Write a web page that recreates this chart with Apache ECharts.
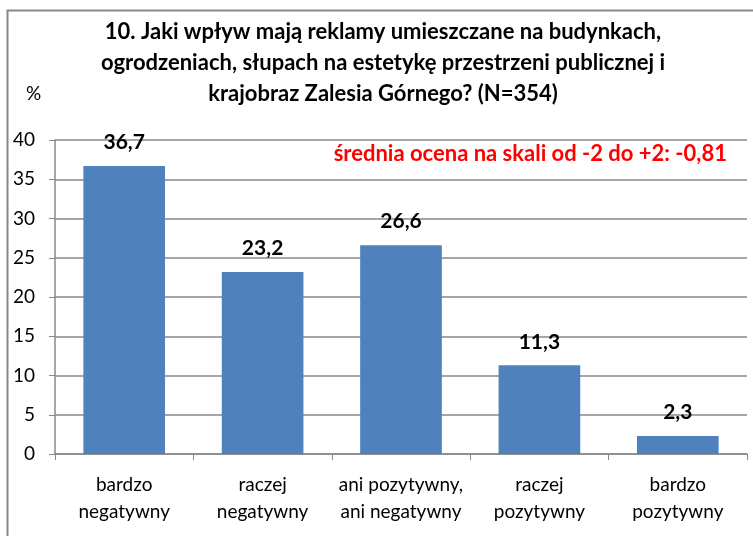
<!DOCTYPE html>
<html>
<head>
<meta charset="utf-8">
<script src="https://cdn.jsdelivr.net/npm/echarts@6/dist/echarts.min.js"></script>
<style>
  html, body { margin: 0; padding: 0; background: #fff; }
  #main { width: 753px; height: 536px; }
</style>
</head>
<body>
<div id="main"></div>
<script>
const categories = ['bardzo\nnegatywny', 'raczej\nnegatywny', 'ani pozytywny,\nani negatywny', 'raczej\npozytywny', 'bardzo\npozytywny'];
const values = [36.7, 23.2, 26.6, 11.3, 2.3];
const titleText = '10. Jaki wpływ mają reklamy umieszczane na budynkach,\nogrodzeniach, słupach na estetykę przestrzeni publicznej i\nkrajobraz Zalesia Górnego? (N=354)';
const noteText = 'średnia ocena na skali od -2 do +2: -0,81';

const font = 'Lato, "Open Sans", sans-serif';
const chart = echarts.init(document.getElementById('main'));
chart.setOption({
  animation: false,
  textStyle: { fontFamily: font },
  title: {
    text: titleText,
    left: 378,
    textAlign: 'center',
    top: 11,
    textStyle: { fontSize: 22, fontWeight: 'bold', color: '#000', lineHeight: 31, fontFamily: font }
  },
  graphic: [
    { type: 'rect', shape: { x: 7.5, y: 10.5, width: 800, height: 600 },
      style: { fill: 'none', stroke: '#888', lineWidth: 2 }, silent: true },
    { type: 'text', left: 26, top: 84, style: { text: '%', fontSize: 19, fill: '#000', fontFamily: font } },
    { type: 'text', right: 26, top: 143, style: { text: noteText, fontSize: 22, fontWeight: 'bold', fill: '#ff0000', fontFamily: font } }
  ],
  grid: { left: 55, right: 6, top: 140, bottom: 82 },
  xAxis: {
    type: 'category',
    data: categories,
    axisLine: { lineStyle: { color: '#888', width: 1.5 } },
    axisTick: { show: true, length: 6, lineStyle: { color: '#888' } },
    axisLabel: { interval: 0, hideOverlap: false, fontSize: 19, color: '#000', lineHeight: 27, margin: 17, fontFamily: font }
  },
  yAxis: {
    type: 'value',
    min: 0, max: 40, interval: 5,
    axisLine: { show: true, lineStyle: { color: '#888', width: 1.5 } },
    axisTick: { show: true, length: 6, lineStyle: { color: '#888' } },
    splitLine: { lineStyle: { color: '#888', width: 1.5 } },
    axisLabel: { fontSize: 19, color: '#000', margin: 20, fontFamily: font }
  },
  series: [{
    type: 'bar',
    data: values,
    barWidth: '59%',
    itemStyle: { color: '#4f81bd' },
    label: {
      show: true, position: 'top', distance: 13,
      fontSize: 21, fontWeight: 'bold', color: '#000', fontFamily: font,
      formatter: p => String(p.value).replace('.', ',')
    }
  }]
});
</script>
</body>
</html>
